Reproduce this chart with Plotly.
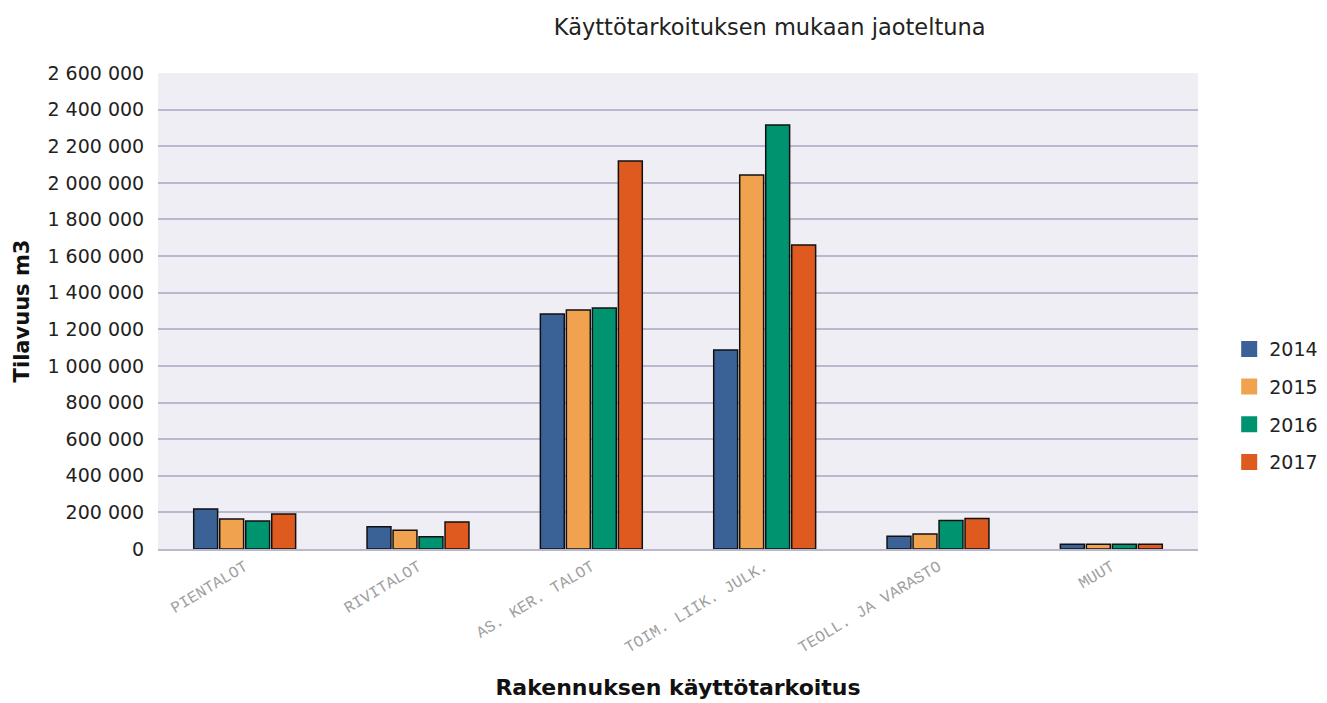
import plotly.graph_objects as go

categories = ["PIENTALOT", "RIVITALOT", "AS. KER. TALOT", "TOIM. LIIK. JULK.",
              "TEOLL. JA VARASTO", "MUUT"]
years = ["2014", "2015", "2016", "2017"]
v2014 = [218000, 122000, 1283000, 1087000, 69000, 26000]
v2015 = [164000, 102000, 1305000, 2043000, 82000, 26000]
v2016 = [153000, 67000, 1316000, 2316000, 156000, 26000]
v2017 = [191000, 148000, 2119000, 1660000, 166000, 26000]
colors = ["#3A6296", "#F0A24F", "#00936F", "#DF5A1F"]

fig = go.Figure()
for i, (yr, vals) in enumerate(zip(years, [v2014, v2015, v2016, v2017])):
    fig.add_trace(go.Bar(
        x=categories, y=vals, name=yr, showlegend=False,
        marker=dict(color=colors[i], line=dict(color="#111111", width=1.5)),
    ))
# legend entries: plain squares without outline
for i, yr in enumerate(years):
    fig.add_trace(go.Scatter(
        x=[None], y=[None], name=yr, mode="markers", legendgroup=yr,
        marker=dict(symbol="square", size=18, color=colors[i]),
    ))

fig.update_layout(
    title=dict(text="Käyttötarkoituksen mukaan jaoteltuna", x=0.574, xanchor="center",
               y=0.973, yanchor="middle",
               font=dict(family="DejaVu Sans", size=22.5, color="#222222")),
    width=1327, height=703,
    margin=dict(l=150, r=137, t=65, b=162),
    paper_bgcolor="white",
    plot_bgcolor="#EFEEF4",
    barmode="group",
    bargap=0.4,
    bargroupgap=0.08,
    separators=", ",
    font=dict(family="DejaVu Sans", size=19, color="#222222"),
    legend=dict(x=1.03, y=0.46, yanchor="top", xanchor="left", tracegroupgap=10,
                traceorder="grouped",
                font=dict(family="DejaVu Sans", size=19, color="#222222"), itemwidth=30),
    showlegend=True,
)

fig.update_xaxes(
    title=dict(text="<b>Rakennuksen käyttötarkoitus</b>",
               font=dict(family="DejaVu Sans", size=22, color="#111111"), standoff=23),
    automargin=False,
    tickangle=-31,
    tickfont=dict(family="Liberation Mono", size=16, color="#A0A0A0"),
    showline=True, linecolor="#B9B8CC", linewidth=2,
    showgrid=False,
)
fig.update_yaxes(
    title=dict(text="<b>Tilavuus m3</b>",
               font=dict(family="DejaVu Sans", size=21, color="#111111"), standoff=12),
    automargin=False,
    range=[0, 2600000], dtick=200000, tick0=0,
    tickformat=",d",
    gridcolor="#B9B8CF", gridwidth=2,
    zeroline=False,
    ticks="outside", ticklen=9, tickcolor="rgba(0,0,0,0)",
    tickfont=dict(family="DejaVu Sans", size=19, color="#222222"),
)

fig.write_html("out.html")
